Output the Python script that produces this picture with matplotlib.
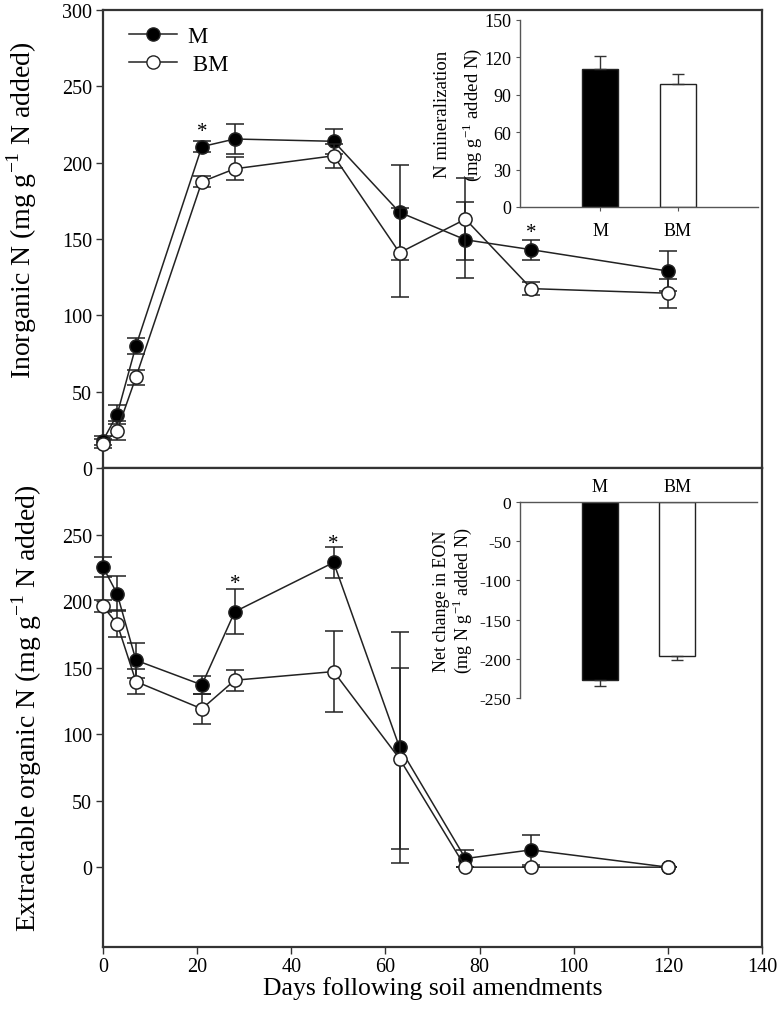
import matplotlib
matplotlib.use("Agg")
import matplotlib.pyplot as plt
from matplotlib.lines import Line2D
import numpy as np

plt.rcParams['font.family'] = ['Liberation Serif', 'DejaVu Serif']
plt.rcParams['mathtext.fontset'] = 'custom'
plt.rcParams['mathtext.rm'] = 'Liberation Serif'

# ---------------- data ----------------
days = [0, 3, 7, 21, 28, 49, 63, 77, 91, 120]

inorg_M = [18, 35, 80, 210.5, 215.5, 214, 167.5, 149.5, 143, 129]
inorg_M_err = [3, 6, 5, 3.5, 10, 8, 31, 25, 6.5, 13]
inorg_BM = [16, 24.5, 59.5, 187.5, 196, 204.5, 141, 163, 117.5, 114.5]
inorg_BM_err = [3, 6, 5, 3.5, 7.5, 8, 29, 27, 4.5, 9.5]

eon_M = [225.5, 205.5, 155.5, 137, 192, 229, 90, 6.5, 13, 0]
eon_M_err = [7.5, 13, 13, 6.5, 17, 12, 87, 6.5, 11.5, 0]
eon_BM = [196, 183, 139.5, 119, 140.5, 147, 81.5, 0, 0, 0]
eon_BM_err = [4.5, 10, 9.5, 11.5, 8, 30.5, 68, 0, 0, 0]

star_top_x = [21, 91]
star_top_y = [225, 158.5]
star_bot_x = [28, 49]
star_bot_y = [218.5, 248.5]

bar_labels = ['M', 'BM']
nmin_vals = [110.5, 98.5]
nmin_err = [11, 8.5]
nmin_ticks = [0, 30, 60, 90, 120, 150]
eon_change_vals = [-226.5, -196.5]
eon_change_err = [8, 4.5]
eon_change_ticks = [-250, -200, -150, -100, -50, 0]

# ---------------- figure ----------------
W, H = 779, 1020
fig = plt.figure(figsize=(W / 100, H / 100), dpi=100)

def fr(x0, y0, x1, y1):
    return [x0 / W, 1 - y1 / H, (x1 - x0) / W, (y1 - y0) / H]

spine_c = '#333333'
line_c = '#222222'

ax1 = fig.add_axes(fr(103, 11, 762, 469))
ax2 = fig.add_axes(fr(103, 469, 762, 948))

err_kw = dict(capsize=6.5, elinewidth=1.1, capthick=1.1, ecolor=line_c,
              lw=1.1, color=line_c, ms=9.5, markeredgewidth=1.1,
              markeredgecolor=line_c)

for ax, m, me, b, be in [(ax1, inorg_M, inorg_M_err, inorg_BM, inorg_BM_err),
                         (ax2, eon_M, eon_M_err, eon_BM, eon_BM_err)]:
    c1 = ax.errorbar(days, m, yerr=me, marker='o', markerfacecolor='black',
                     zorder=3, **err_kw)
    c2 = ax.errorbar(days, b, yerr=be, marker='o', markerfacecolor='white',
                     zorder=4, **err_kw)
    for c in (c1, c2):
        for art in c.get_children():
            art.set_clip_on(False)
    ax.set_xlim(0, 140)
    for s in ax.spines.values():
        s.set_color(spine_c)
        s.set_linewidth(1.6)
    ax.tick_params(direction='out', length=5, width=1, color=spine_c,
                   labelsize=14.5, pad=3)

ax1.set_ylim(0, 300)
ax1.set_yticks(np.arange(0, 301, 50))
ax1.set_xticks([])
ax2.set_ylim(-60, 300)
ax2.set_yticks(np.arange(0, 251, 50))
ax2.set_xticks(np.arange(0, 141, 20))
ax2.tick_params(axis='x', pad=2)

for ax, xs, ys in [(ax1, star_top_x, star_top_y), (ax2, star_bot_x, star_bot_y)]:
    for x, y in zip(xs, ys):
        ax.annotate('*', (x, y), xytext=(0, -8), textcoords='offset points',
                    ha='center', va='baseline', fontsize=15)

ax1.set_ylabel('Inorganic N (mg g$^{-1}$ N added)', fontsize=20)
ax1.yaxis.set_label_coords(-0.097, 0.565)
ax2.set_ylabel('Extractable organic N (mg g$^{-1}$ N added)', fontsize=20)
ax2.yaxis.set_label_coords(-0.090, 0.50)
ax2.set_xlabel('Days following soil amendments', fontsize=18.5, labelpad=0)

hM = Line2D([], [], color=line_c, lw=1.1, marker='o', ms=9.5,
            markerfacecolor='black', markeredgecolor=line_c)
hB = Line2D([], [], color=line_c, lw=1.1, marker='o', ms=9.5,
            markerfacecolor='white', markeredgecolor=line_c)
ax1.legend([hM, hB], ['M', ' BM'], loc='upper left', frameon=False,
           fontsize=16.5, handlelength=2.1, handletextpad=0.45,
           borderaxespad=0.0, bbox_to_anchor=(0.025, 0.985), labelspacing=0.3)

# ---------------- insets ----------------
pos = [0, 1]
ins1 = fig.add_axes(fr(520, 21, 758, 208))
ins1.bar(pos, nmin_vals, width=0.47, color=['black', 'white'],
         edgecolor='#222222', linewidth=1)
ins1.errorbar(pos, nmin_vals, yerr=[[0, 0], nmin_err], fmt='none',
              ecolor='#333333', capsize=4, elinewidth=1)
ins1.set_xlim(-1.03, 2.03)
ins1.set_ylim(0, 150)
ins1.set_yticks(nmin_ticks)
ins1.set_yticklabels([str(v) for v in nmin_ticks])
ins1.set_xticks(pos)
ins1.set_xticklabels(bar_labels)
ins1.spines['top'].set_visible(False)
ins1.spines['right'].set_visible(False)
for s in ('left', 'bottom'):
    ins1.spines[s].set_color('#555555')
    ins1.spines[s].set_linewidth(1)
ins1.tick_params(direction='out', length=3, color='#555555', labelsize=13)
ins1.tick_params(axis='x', pad=8)
ins1.patch.set_alpha(0)
ins1.set_ylabel('N mineralization\n(mg g$^{-1}$ added N)', fontsize=13.5,
                linespacing=1.5)
ins1.yaxis.set_label_coords(-0.15, 0.5)

ins2 = fig.add_axes(fr(520, 503, 757, 699))
ins2.bar(pos, eon_change_vals, width=0.47, color=['black', 'white'],
         edgecolor='#222222', linewidth=1)
ins2.errorbar(pos, eon_change_vals, yerr=[eon_change_err, [0, 0]], fmt='none',
              ecolor='#333333', capsize=4, elinewidth=1)
ins2.set_xlim(-1.03, 2.03)
ins2.set_ylim(-250, 0)
ins2.set_yticks(eon_change_ticks)
ins2.set_yticklabels([str(v) for v in eon_change_ticks])
ins2.set_xticks(pos)
ins2.set_xticklabels(bar_labels)
ins2.xaxis.tick_top()
ins2.spines['bottom'].set_visible(False)
ins2.spines['right'].set_visible(False)
for s in ('left', 'top'):
    ins2.spines[s].set_color('#555555')
    ins2.spines[s].set_linewidth(1)
ins2.tick_params(direction='out', length=3, color='#555555', labelsize=12.5)
ins2.tick_params(axis='x', length=0, pad=5, labelsize=13)
ins2.patch.set_alpha(0)
ins2.set_ylabel('Net change in EON\n(mg N g$^{-1}$ added N)', fontsize=13,
                linespacing=1.05)
ins2.yaxis.set_label_coords(-0.195, 0.5)

fig.savefig('out.png', dpi=100)
